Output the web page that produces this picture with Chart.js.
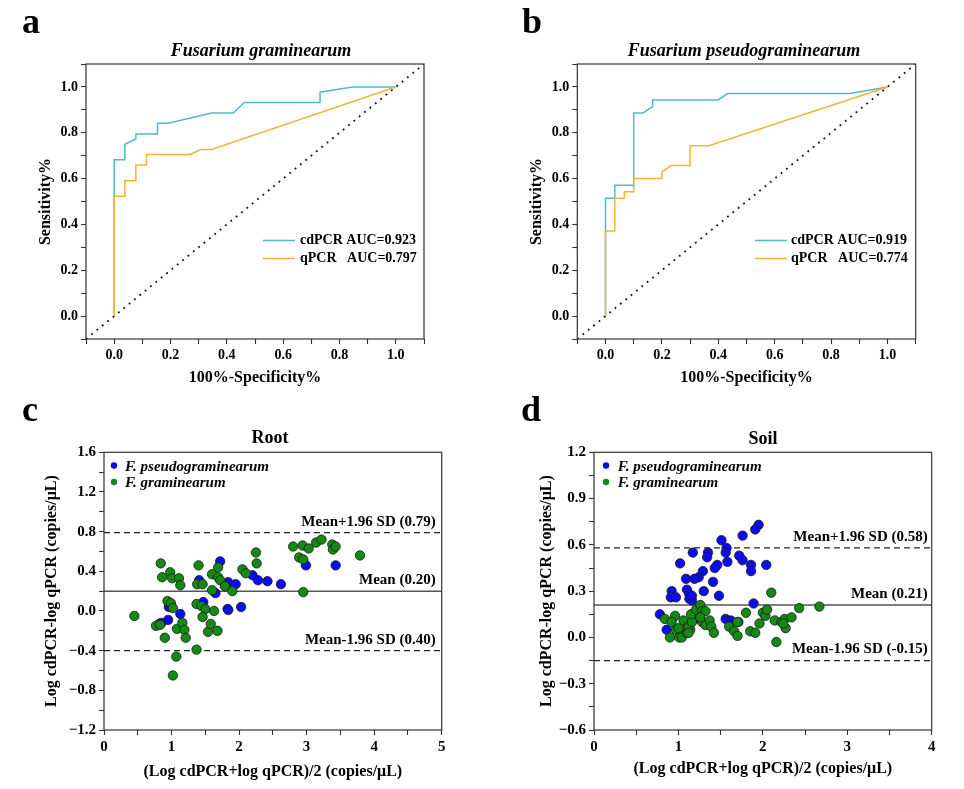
<!DOCTYPE html>
<html><head><meta charset="utf-8">
<script src="https://cdn.jsdelivr.net/npm/chart.js@4.4.1/dist/chart.umd.min.js"></script>
<style>
html,body{margin:0;padding:0;background:#fff;}
#wrap{position:relative;width:964px;height:789px;overflow:hidden;font-family:'Liberation Serif','Times New Roman',serif;color:#000;background:#fff;}
canvas{position:absolute;}
.let{position:absolute;font-weight:bold;line-height:1;font-size:36px;white-space:nowrap;}
.ttl{position:absolute;font-weight:bold;line-height:1;white-space:nowrap;transform:translate(-50%,-50%);font-size:18px;}
</style></head><body>
<div id="wrap">
<canvas id="ca" width="482" height="390" style="left:0;top:0"></canvas>
<canvas id="cb" width="482" height="390" style="left:482px;top:0"></canvas>
<canvas id="cc" width="482" height="399" style="left:0;top:390px"></canvas>
<canvas id="cd" width="482" height="399" style="left:482px;top:390px"></canvas>
<div class="let" style="left:22px;top:3px">a</div>
<div class="let" style="left:522px;top:3px">b</div>
<div class="let" style="left:22px;top:391px">c</div>
<div class="let" style="left:521px;top:391px">d</div>
<div class="ttl" style="left:261px;top:50px;font-style:italic">Fusarium graminearum</div>
<div class="ttl" style="left:744px;top:50px;font-style:italic">Fusarium pseudograminearum</div>
<div class="ttl" style="left:270px;top:437px">Root</div>
<div class="ttl" style="left:763px;top:438px">Soil</div>
</div>
<script>
// ---------- DATA ----------
// Panel a: ROC, Fusarium graminearum
const rocA_cd_fpr = [0, 0, 0.038, 0.038, 0.077, 0.077, 0.154, 0.154, 0.192, 0.346, 0.423, 0.462, 0.731, 0.731, 0.846, 1.0];
const rocA_cd_tpr = [0, 0.682, 0.682, 0.750, 0.773, 0.795, 0.795, 0.841, 0.841, 0.886, 0.886, 0.932, 0.932, 0.977, 1.0, 1.0];
const rocA_q_fpr  = [0, 0, 0.038, 0.038, 0.077, 0.077, 0.115, 0.115, 0.269, 0.308, 0.346, 1.0];
const rocA_q_tpr  = [0, 0.523, 0.523, 0.591, 0.591, 0.659, 0.659, 0.705, 0.705, 0.727, 0.727, 1.0];
// Panel b: ROC, Fusarium pseudograminearum
const rocB_cd_fpr = [0, 0, 0.033, 0.033, 0.1, 0.1, 0.133, 0.167, 0.167, 0.4, 0.433, 0.867, 1.0];
const rocB_cd_tpr = [0, 0.514, 0.514, 0.571, 0.571, 0.886, 0.886, 0.914, 0.943, 0.943, 0.971, 0.971, 1.0];
const rocB_q_fpr  = [0, 0, 0.033, 0.033, 0.067, 0.067, 0.1, 0.1, 0.2, 0.2, 0.233, 0.3, 0.3, 0.367, 1.0];
const rocB_q_tpr  = [0, 0.371, 0.371, 0.514, 0.514, 0.543, 0.543, 0.6, 0.6, 0.629, 0.657, 0.657, 0.743, 0.743, 1.0];
const legendA = ['cdPCR AUC=0.923', 'qPCR   AUC=0.797'];
const legendB = ['cdPCR AUC=0.919', 'qPCR   AUC=0.774'];
const diagX = [-0.1, 1.1];

// Panel c: Bland-Altman, Root
const rootFp_x = [1.72,1.41,1.84,1.95,2.20,2.28,2.42,2.62,2.99,3.43,1.65,1.47,2.03,1.83,1.84,1.13,0.96,0.95,0.85,0.82];
const rootFp_y = [0.50,0.31,0.29,0.27,0.36,0.31,0.30,0.27,0.46,0.46,0.18,0.09,0.04,0.02,0.01,-0.03,0.04,-0.09,-0.12,-0.13];
const rootFg_x = [0.45,0.77,0.84,0.86,0.98,1.01,1.11,1.13,0.94,0.99,1.02,0.83,0.90,1.08,1.16,1.19,1.21,1.07,1.02,1.37,1.40,1.38,1.46,1.37,1.44,1.50,1.46,1.54,1.58,1.68,1.63,1.60,1.69,1.69,1.72,1.60,1.79,1.90,2.05,2.10,2.25,2.26,2.80,2.94,2.89,2.95,3.03,3.14,3.22,3.38,3.39,3.43,3.79,2.95];
const rootFg_y = [-0.05,-0.15,0.48,0.34,0.39,0.33,0.33,0.26,0.10,0.08,0.03,-0.14,-0.27,-0.18,-0.12,-0.19,-0.27,-0.46,-0.65,-0.39,0.46,0.27,0.27,0.07,0.05,0.02,-0.06,-0.21,-0.13,-0.20,0.00,0.37,0.44,0.34,0.31,0.21,0.25,0.20,0.42,0.38,0.59,0.48,0.65,0.66,0.54,0.52,0.63,0.69,0.72,0.67,0.62,0.65,0.56,0.19];
const rootRef = [0.79, 0.20, -0.40];
const rootRefText = ['Mean+1.96 SD (0.79)', 'Mean (0.20)', 'Mean-1.96 SD (0.40)'];

// Panel d: Bland-Altman, Soil
const soilFp_x = [1.95,1.91,1.76,1.51,1.57,1.56,1.58,1.72,1.76,1.86,1.86,2.04,1.17,1.35,1.34,1.02,1.46,1.43,1.29,1.24,1.19,1.09,1.41,1.10,1.30,1.13,0.92,0.91,0.97,1.13,1.16,1.16,1.48,1.89,0.78,0.86,1.56,1.62,1.71,1.20,1.25];
const soilFp_y = [0.73,0.70,0.66,0.63,0.58,0.55,0.49,0.53,0.50,0.47,0.43,0.47,0.55,0.55,0.52,0.48,0.47,0.45,0.43,0.39,0.38,0.38,0.36,0.31,0.30,0.28,0.30,0.26,0.26,0.25,0.24,0.27,0.27,0.22,0.15,0.05,0.12,0.11,0.10,0.15,0.12];
const soilFg_x = [0.84,0.96,0.92,0.97,0.90,1.01,1.04,1.06,1.07,1.10,1.14,1.12,1.16,1.15,1.21,1.26,1.28,1.32,1.28,1.32,1.37,1.39,1.42,1.26,1.60,1.66,1.70,1.70,1.80,1.85,1.91,1.96,2.00,2.03,2.05,2.10,2.14,2.16,2.22,2.26,2.27,2.34,2.43,2.67,2.24,1.00,1.12];
const soilFg_y = [0.12,0.14,0.10,0.05,0.00,0.00,0.00,0.11,0.05,0.03,0.05,0.07,0.10,0.15,0.18,0.21,0.17,0.17,0.10,0.08,0.11,0.07,0.03,0.13,0.07,0.04,0.01,0.10,0.16,0.04,0.03,0.09,0.16,0.14,0.18,0.29,0.11,-0.03,0.10,0.12,0.06,0.13,0.19,0.20,0.09,0.06,0.03];
const soilRef = [0.58, 0.21, -0.15];
const soilRefText = ['Mean+1.96 SD (0.58)', 'Mean (0.21)', 'Mean-1.96 SD (-0.15)'];

const seriesNames = ['F. pseudograminearum', 'F. graminearum'];

// ---------- STYLE ----------
const SERIF = "'Liberation Serif','Times New Roman',serif";
Chart.defaults.font.family = SERIF;
Chart.defaults.color = '#000';
const CYAN = '#4FB9CD', ORANGE = '#F8B232', BLUE = '#0B0BF5', GREEN = '#148A14';

function pts(xs, ys){ return xs.map((x,i)=>({x:x, y:ys[i]})); }
function fmt1(v){ const s = Math.abs(v).toFixed(1); return v < -1e-9 ? '\u2212'+s : s; }

function axis(o){
  return {
    type:'linear', min:o.min, max:o.max,
    afterFit: function(s){ if (o.w!=null) s.width = o.w; if (o.h!=null) s.height = o.h; },
    ticks:{ stepSize:o.step, autoSkip:false, maxRotation:0, minRotation:0, padding:o.pad, font:{size:o.fs, weight:'bold'}, color:'#000', callback:o.cb },
    grid:{ display:true, drawOnChartArea:false, drawTicks:true, tickLength:5, tickColor:'#333', tickWidth:1.1 },
    border:{ display:false },
    title:{ display:true, text:o.title, font:{size:16, weight:'bold'}, padding:0, color:'#000' }
  };
}

function makePlugin(cfg){
  return {
    id:'annot',
    afterDraw(chart){
      const ctx = chart.ctx, a = chart.chartArea;
      ctx.save();
      ctx.strokeStyle = '#333'; ctx.lineWidth = 1.2;
      ctx.strokeRect(a.left, a.top, a.right-a.left, a.bottom-a.top);
      ctx.textBaseline = 'middle';
      if (cfg.lineLegend){
        cfg.lineLegend.forEach(it=>{
          ctx.strokeStyle = it.color; ctx.lineWidth = 1.5;
          ctx.beginPath(); ctx.moveTo(it.x0, it.y); ctx.lineTo(it.x1, it.y); ctx.stroke();
          ctx.fillStyle = '#000'; ctx.font = "bold 14px " + SERIF; ctx.textAlign = 'left';
          ctx.fillText(it.text, it.xt, it.y);
        });
      }
      if (cfg.dotLegend){
        cfg.dotLegend.forEach(it=>{
          ctx.fillStyle = it.color;
          ctx.beginPath(); ctx.arc(it.x, it.y, 3.2, 0, Math.PI*2); ctx.fill();
          ctx.fillStyle = '#000'; ctx.font = "italic bold 15px " + SERIF; ctx.textAlign = 'left';
          ctx.fillText(it.text, it.xt, it.y + 1.5);
        });
      }
      if (cfg.refLabels){
        const ys = chart.scales.y;
        ctx.fillStyle = '#000'; ctx.font = "bold 15px " + SERIF; ctx.textAlign = 'right';
        cfg.refLabels.values.forEach((v,i)=>{
          ctx.fillText(cfg.refLabels.texts[i], a.right - cfg.refLabels.r, ys.getPixelForValue(v) - 11);
        });
      }
      ctx.restore();
    }
  };
}

function rocChart(id, cdF, cdT, qF, qT, legTexts, pad, yw, xh, leg){
  const lbl = v => { const r = Math.round(v*10); return (r>=0 && r<=10 && r%2===0) ? (r/10).toFixed(1) : ''; };
  return new Chart(document.getElementById(id), {
    type:'scatter',
    data:{ datasets:[
      { data: pts(qF, qT), showLine:true, borderColor:ORANGE, borderWidth:1.5, pointRadius:0, order:1 },
      { data: pts(cdF, cdT), showLine:true, borderColor:CYAN, borderWidth:1.5, pointRadius:0, order:2 },
      { data: pts(diagX, diagX), showLine:true, borderColor:'#111', borderWidth:1.8, borderDash:[1.8,5.1], borderCapStyle:'butt', pointRadius:0, order:3 }
    ]},
    options:{
      responsive:false, animation:false, events:[],
      layout:{ padding: pad },
      plugins:{ legend:{display:false}, tooltip:{enabled:false} },
      scales:{
        x: axis({min:-0.1, max:1.1, step:0.1, cb:lbl, fs:14, pad:3, h:xh, title:'100%-Specificity%'}),
        y: axis({min:-0.1, max:1.1, step:0.1, cb:lbl, fs:14, pad:3, w:yw, title:'Sensitivity%'})
      }
    },
    plugins:[ makePlugin({ lineLegend:[
      { color:CYAN, text:legTexts[0], x0:leg[0], x1:leg[1], xt:leg[2], y:240.5 },
      { color:ORANGE, text:legTexts[1], x0:leg[0], x1:leg[1], xt:leg[2], y:258.5 }
    ]}) ]
  });
}

function baChart(id, fpX, fpY, fgX, fgY, ref, refText, xmax, ymin, ymax, ystep, ylabEvery, pad, yw, xh, legX, rOff){
  const xl = v => { const r = Math.round(v*2); return r%2===0 ? String(r/2) : ''; };
  const yl = v => { const r = Math.round(v*100); return (r % ylabEvery === 0) ? fmt1(v) : ''; };
  const refSets = ref.map((v,i)=>({
    data: pts([0, xmax], [v, v]), showLine:true, pointRadius:0,
    borderColor: i===1 ? '#555' : '#222', borderWidth: i===1 ? 1.5 : 1.2,
    borderDash: i===1 ? [] : [6,4], order:3
  }));
  return new Chart(document.getElementById(id), {
    type:'scatter',
    data:{ datasets:[
      { data: pts(fgX, fgY), backgroundColor:GREEN, borderColor:'#1a1a1a', borderWidth:0.8, pointRadius:4.7, order:1 },
      { data: pts(fpX, fpY), backgroundColor:BLUE, borderColor:'#1a1a1a', borderWidth:0.8, pointRadius:4.7, order:2 }
    ].concat(refSets)},
    options:{
      responsive:false, animation:false, events:[],
      layout:{ padding: pad },
      plugins:{ legend:{display:false}, tooltip:{enabled:false} },
      scales:{
        x: axis({min:0, max:xmax, step:0.5, cb:xl, fs:15, pad:3, h:xh, title:'(Log cdPCR+log qPCR)/2 (copies/\u03bcL)'}),
        y: axis({min:ymin, max:ymax, step:ystep, cb:yl, fs:15, pad:3, w:yw, title:'Log cdPCR-log qPCR (copies/\u03bcL)'})
      }
    },
    plugins:[ makePlugin({
      dotLegend:[
        { color:BLUE, text:seriesNames[0], x:legX[0], xt:legX[1], y:75.5 },
        { color:GREEN, text:seriesNames[1], x:legX[0], xt:legX[1], y:92 }
      ],
      refLabels:{ values:ref, texts:refText, r:rOff }
    }) ]
  });
}

rocChart('ca', rocA_cd_fpr, rocA_cd_tpr, rocA_q_fpr, rocA_q_tpr, legendA,
  {left:36.1, right:58, top:64, bottom:2.4}, 49.9, 48.6, [263, 295, 300]);
rocChart('cb', rocB_cd_fpr, rocB_cd_tpr, rocB_q_fpr, rocB_q_tpr, legendB,
  {left:45.1, right:48.3, top:64, bottom:2.7}, 50.2, 48.3, [273, 305, 309]);
baChart('cc', rootFp_x, rootFp_y, rootFg_x, rootFg_y, rootRef, rootRefText, 5, -1.2, 1.6, 0.2, 40,
  {left:42.1, right:40.3, top:62.3, bottom:7.7}, 61.9, 51.3, [114, 125], 6);
baChart('cd', soilFp_x, soilFp_y, soilFg_x, soilFg_y, soilRef, soilRefText, 4, -0.6, 1.2, 0.15, 30,
  {left:55.1, right:32.3, top:62.3, bottom:10.4}, 56.9, 48.6, [124, 135.7], 4);
</script>
</body></html>
